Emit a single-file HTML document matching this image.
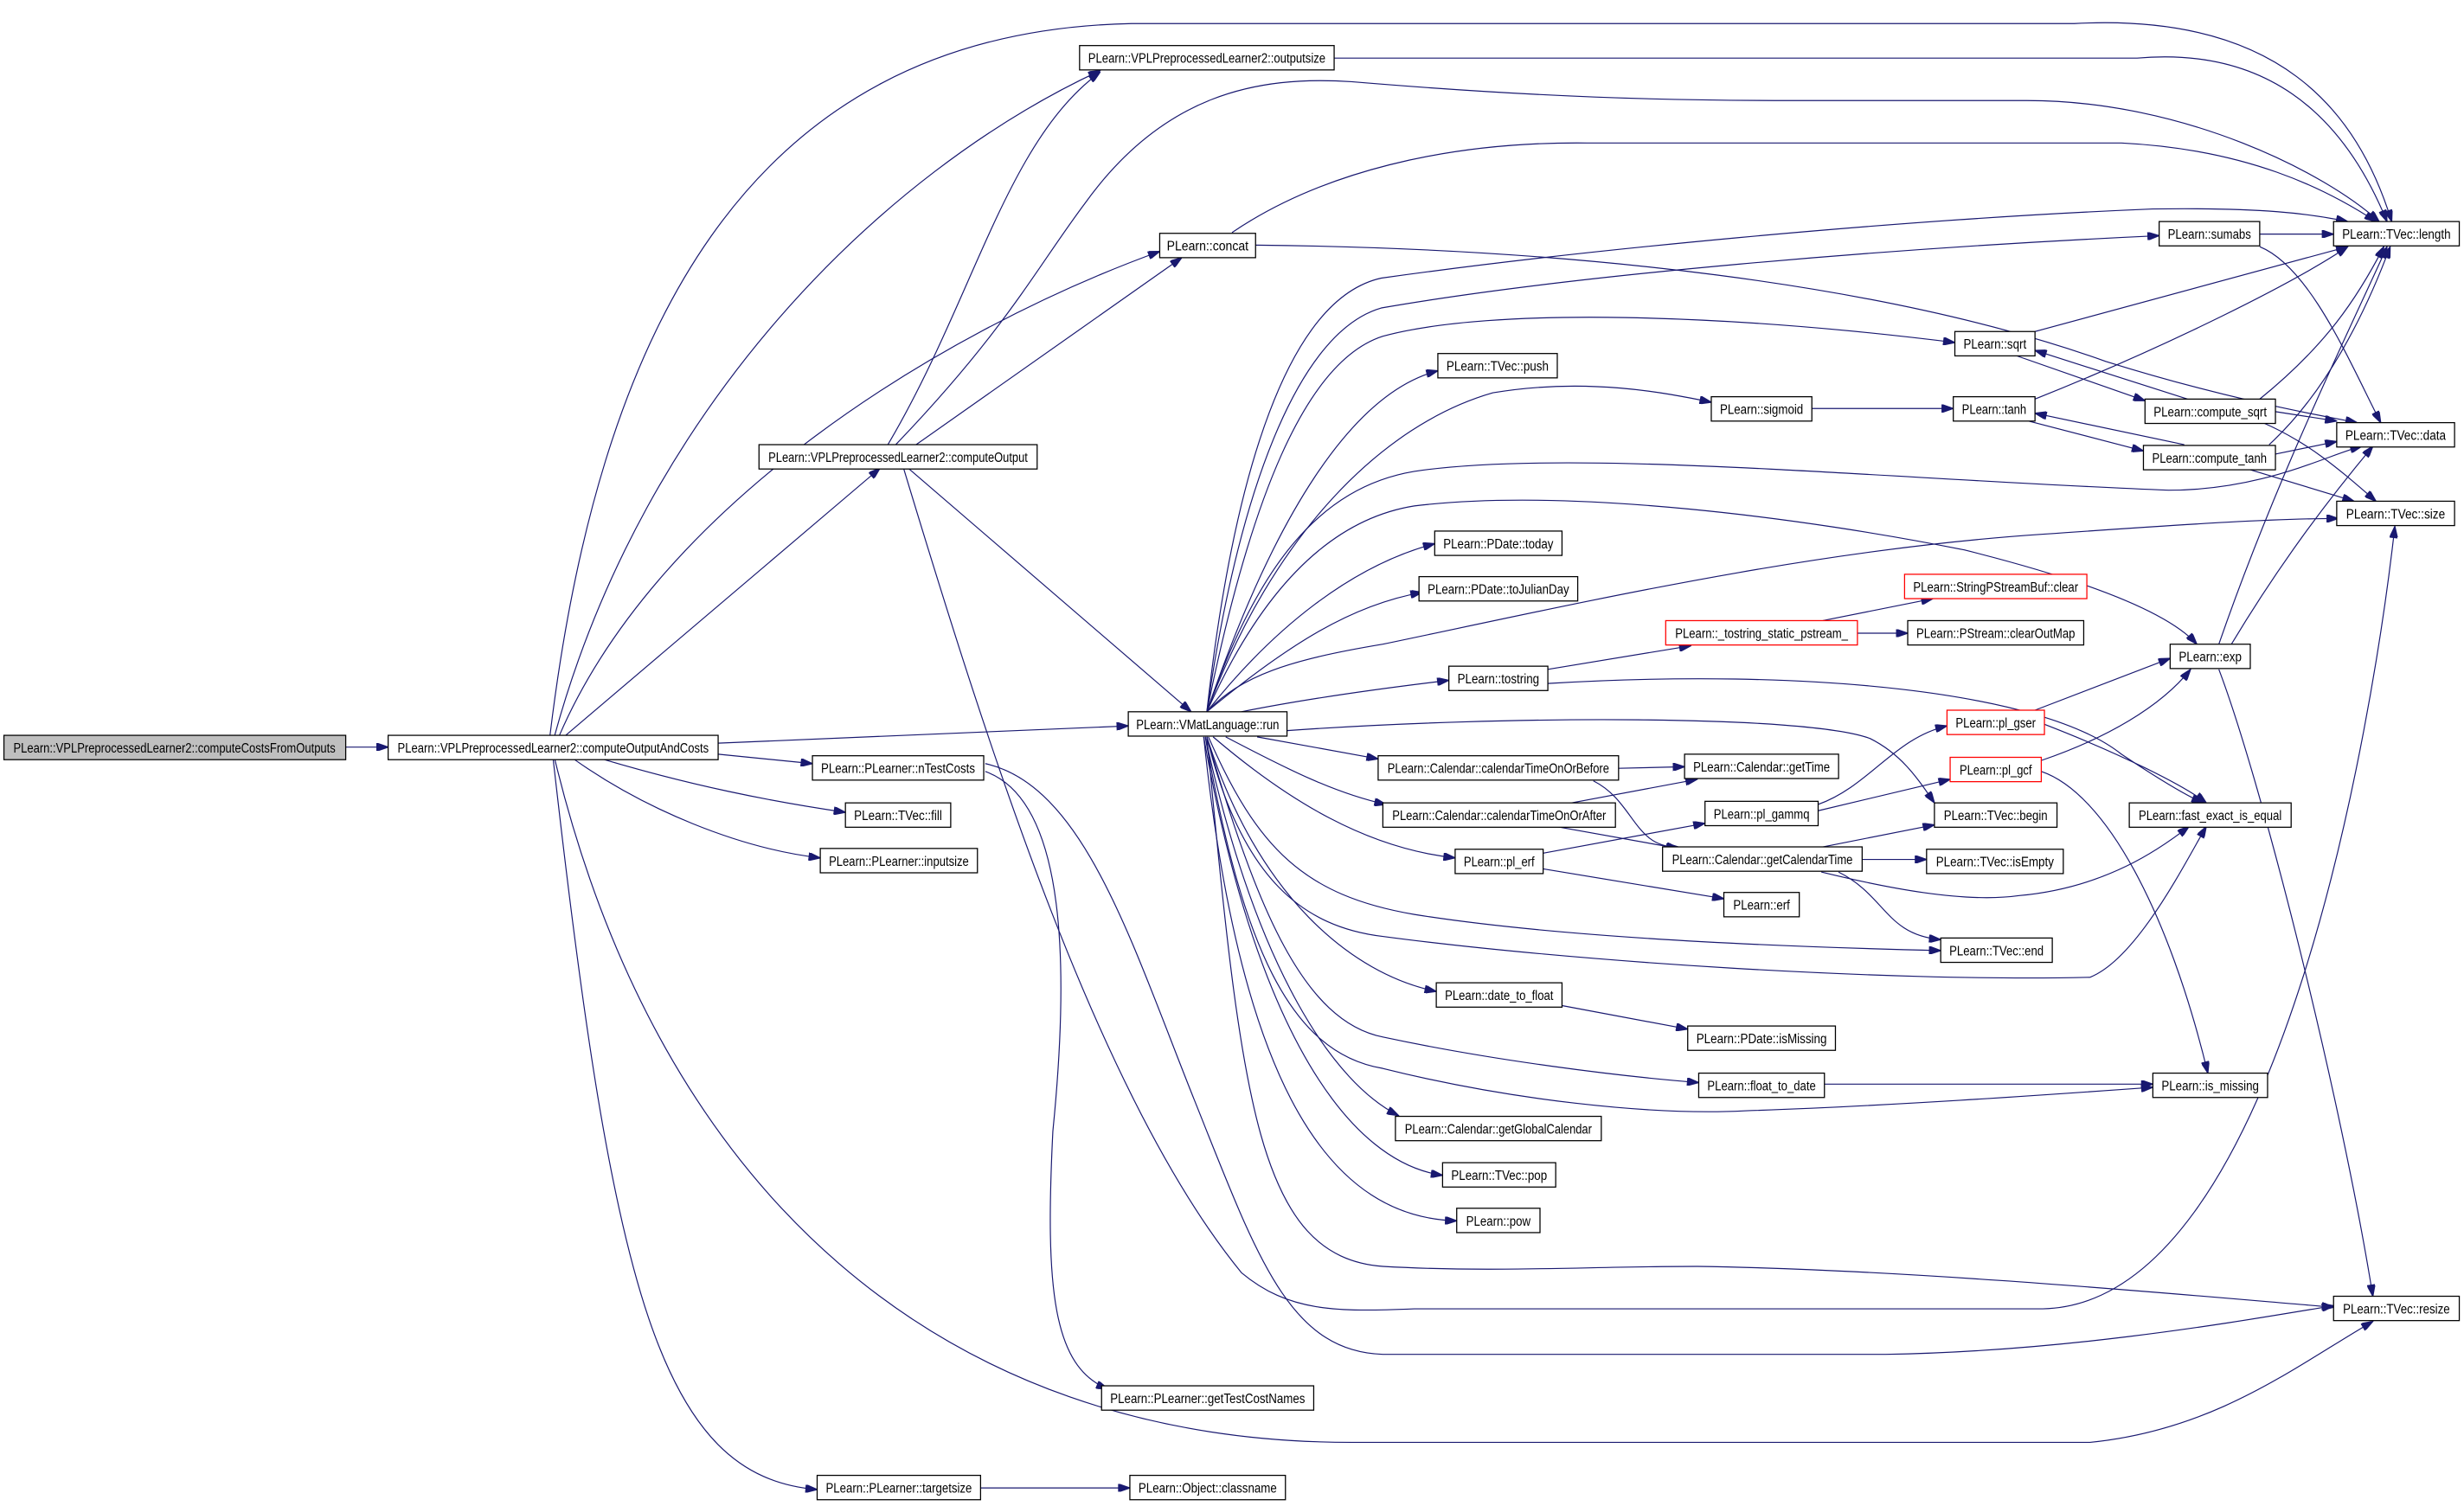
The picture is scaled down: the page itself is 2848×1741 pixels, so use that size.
<!DOCTYPE html>
<html><head><meta charset="utf-8"><style>
html,body{margin:0;padding:0;background:#fff;}
svg{display:block;}
text{font-family:"Liberation Sans",sans-serif;font-size:8.6px;fill:#000;}
.e{fill:none;stroke:#191970;stroke-width:0.65;}
.n{fill:#fff;stroke:#000;stroke-width:0.7;}
.r{fill:#fff;stroke:#ff0000;stroke-width:0.7;}
</style></head><body>
<svg width="2848" height="1741" viewBox="0 0 1568 958.5" preserveAspectRatio="none" xmlns="http://www.w3.org/2000/svg">
<defs><marker id="a" viewBox="0 0 10 7" refX="10" refY="3.5" markerWidth="8" markerHeight="5" markerUnits="userSpaceOnUse" orient="auto"><path d="M0,0 L10,3.5 L0,7 z" fill="#191970" stroke="#191970"/></marker></defs>
<g marker-end="url(#a)">
<path class="e" d="M220,475.5 L247,475.5"/>
<path class="e" d="M350,468 C380,220 470,20 720,15 L1320,15 C1450,8 1500,70 1522,141"/>
<path class="e" d="M353,468 C410,260 560,110 700,45"/>
<path class="e" d="M356,468 C420,320 600,210 738,160"/>
<path class="e" d="M360,468 L560,298"/>
<path class="e" d="M457,473 L718,462"/>
<path class="e" d="M457,480 L517,486"/>
<path class="e" d="M383,483 C440,500 490,510 538,517"/>
<path class="e" d="M365,483 C410,515 470,540 522,546"/>
<path class="e" d="M353,483 C420,760 600,918 860,918 L1330,918 C1410,910 1460,870 1510,841"/>
<path class="e" d="M352,483 C390,820 420,940 520,948"/>
<path class="e" d="M565,283 C620,190 640,90 700,46"/>
<path class="e" d="M570,283 C640,210 660,170 690,130 C740,60 800,48 860,52 C980,62 1060,64 1140,64 L1290,64 C1390,64 1480,110 1514,141"/>
<path class="e" d="M583,283 L752,164"/>
<path class="e" d="M578,298 L758,453"/>
<path class="e" d="M575,298 C630,480 700,700 790,810 C820,835 850,835 900,833 L1300,833 C1450,830 1510,460 1524,335"/>
<path class="e" d="M627,486 C690,500 720,600 760,700 C800,800 820,860 880,862 L1200,862 C1320,860 1430,840 1485,831"/>
<path class="e" d="M627,491 C680,510 680,620 670,720 C665,820 670,870 705,884"/>
<path class="e" d="M768,469 C790,700 800,800 880,806 C950,810 1010,806 1080,806 C1220,808 1400,825 1485,832"/>
<path class="e" d="M799,156 C1000,158 1200,180 1340,230 C1420,255 1480,265 1500,269"/>
<path class="e" d="M784,148 C840,110 920,90 1010,91 L1350,91 C1430,95 1480,120 1512,141"/>
<path class="e" d="M849,37 L1360,37 C1440,30 1490,70 1519,141"/>
<path class="e" d="M768,453 C785,300 820,190 879,177 C1000,160 1200,140 1370,133 C1440,132 1470,136 1494,141"/>
<path class="e" d="M768,453 C790,300 830,210 879,196 C1000,175 1200,158 1374,150"/>
<path class="e" d="M768,453 C795,320 830,230 880,214 C950,195 1100,200 1244,218"/>
<path class="e" d="M768,453 C810,330 860,250 915,236"/>
<path class="e" d="M768,453 C810,340 880,270 950,250 C1010,240 1060,250 1089,256"/>
<path class="e" d="M768,453 C800,360 840,310 900,300 C1000,285 1200,305 1380,312 C1440,312 1480,290 1503,284"/>
<path class="e" d="M768,453 C805,370 850,330 900,322 C1000,310 1150,330 1250,350 C1330,370 1380,390 1398,410"/>
<path class="e" d="M768,453 C790,430 820,420 880,410 C1000,385 1150,350 1300,340 C1400,333 1450,330 1488,330"/>
<path class="e" d="M768,453 C810,400 860,360 913,346"/>
<path class="e" d="M768,453 C820,410 860,385 905,377"/>
<path class="e" d="M790,453 C830,445 880,438 922,433"/>
<path class="e" d="M819,465 C960,455 1150,455 1190,470 C1210,480 1220,495 1231,511"/>
<path class="e" d="M800,469 L877,483"/>
<path class="e" d="M780,469 C820,490 850,505 882,512"/>
<path class="e" d="M772,469 C820,510 870,540 926,546"/>
<path class="e" d="M769,469 C800,540 830,570 900,582 C1000,598 1150,603 1235,605"/>
<path class="e" d="M768,469 C790,560 830,590 880,596 C1000,612 1200,625 1330,622 C1360,610 1390,550 1404,526"/>
<path class="e" d="M768,469 C800,570 860,620 914,631"/>
<path class="e" d="M768,469 C800,580 830,650 880,660 C950,675 1030,685 1081,689"/>
<path class="e" d="M767,469 C790,600 820,670 880,680 C960,700 1050,710 1110,707 C1200,704 1300,697 1370,692"/>
<path class="e" d="M767,469 C800,620 850,690 890,710"/>
<path class="e" d="M766,469 C800,660 860,740 918,748"/>
<path class="e" d="M766,469 C790,700 850,775 927,777"/>
<path class="e" d="M1438,149 L1485,149"/>
<path class="e" d="M1438,157 C1470,170 1495,230 1515,269"/>
<path class="e" d="M1295,211 L1494,157"/>
<path class="e" d="M1282,226 L1365,255"/>
<path class="e" d="M1392,254 L1295,223"/>
<path class="e" d="M1438,254 C1480,220 1500,190 1517,157"/>
<path class="e" d="M1448,262 L1487,268"/>
<path class="e" d="M1440,269 C1470,282 1490,300 1512,319"/>
<path class="e" d="M1295,254 C1380,220 1460,180 1494,157"/>
<path class="e" d="M1291,268 L1364,287"/>
<path class="e" d="M1390,283 L1295,263"/>
<path class="e" d="M1444,283 C1480,250 1505,200 1521,157"/>
<path class="e" d="M1448,289 L1487,281"/>
<path class="e" d="M1432,299 L1498,319"/>
<path class="e" d="M1153,260 L1243,260"/>
<path class="e" d="M1412,410 C1450,300 1500,200 1519,157"/>
<path class="e" d="M1420,410 C1450,360 1480,320 1510,284"/>
<path class="e" d="M1412,426 C1440,500 1490,700 1510,825"/>
<path class="e" d="M985,426 L1076,411"/>
<path class="e" d="M985,435 C1150,425 1300,440 1350,480 C1380,500 1395,508 1402,511"/>
<path class="e" d="M1160,395 L1230,381"/>
<path class="e" d="M1182,403 L1214,403"/>
<path class="e" d="M1295,452 L1381,419"/>
<path class="e" d="M1301,461 C1350,480 1390,500 1404,511"/>
<path class="e" d="M1299,484 C1340,470 1375,450 1394,426"/>
<path class="e" d="M1299,491 C1340,505 1380,580 1405,683"/>
<path class="e" d="M1157,512 C1190,500 1205,470 1239,462"/>
<path class="e" d="M1157,516 L1241,496"/>
<path class="e" d="M1030,489 L1072,488"/>
<path class="e" d="M1014,497 C1040,510 1040,540 1068,539"/>
<path class="e" d="M1000,511 L1080,496"/>
<path class="e" d="M990,526 L1068,540"/>
<path class="e" d="M982,543 L1085,524"/>
<path class="e" d="M982,553 L1097,572"/>
<path class="e" d="M1160,539 L1231,525"/>
<path class="e" d="M1185,547 L1226,547"/>
<path class="e" d="M1170,555 C1200,570 1200,595 1235,598"/>
<path class="e" d="M1159,555 C1200,565 1250,575 1285,570 C1340,565 1375,540 1393,526"/>
<path class="e" d="M994,640 L1074,655"/>
<path class="e" d="M1161,690 L1370,690"/>
<path class="e" d="M624,947 L719,947"/>
</g>
<g>
<rect x="2.5" y="468" width="217.5" height="15.5" fill="#bfbfbf" stroke="#000" stroke-width="0.7"/><text x="111" y="479" text-anchor="middle" textLength="205" lengthAdjust="spacingAndGlyphs">PLearn::VPLPreprocessedLearner2::computeCostsFromOutputs</text>
<rect class="n" x="247" y="468" width="210" height="15.5"/><text x="352" y="479" text-anchor="middle" textLength="198" lengthAdjust="spacingAndGlyphs">PLearn::VPLPreprocessedLearner2::computeOutputAndCosts</text>
<rect class="n" x="687" y="29" width="162" height="15.5"/><text x="768" y="40" text-anchor="middle" textLength="151" lengthAdjust="spacingAndGlyphs">PLearn::VPLPreprocessedLearner2::outputsize</text>
<rect class="n" x="738" y="148.5" width="61" height="15.5"/><text x="768.5" y="159.5" text-anchor="middle" textLength="52" lengthAdjust="spacingAndGlyphs">PLearn::concat</text>
<rect class="n" x="483" y="283" width="177" height="15.5"/><text x="571.5" y="294" text-anchor="middle" textLength="165" lengthAdjust="spacingAndGlyphs">PLearn::VPLPreprocessedLearner2::computeOutput</text>
<rect class="n" x="718" y="453" width="101" height="15.5"/><text x="768.5" y="464" text-anchor="middle" textLength="91" lengthAdjust="spacingAndGlyphs">PLearn::VMatLanguage::run</text>
<rect class="n" x="517" y="481" width="109" height="15.5"/><text x="571.5" y="492" text-anchor="middle" textLength="98" lengthAdjust="spacingAndGlyphs">PLearn::PLearner::nTestCosts</text>
<rect class="n" x="538" y="511" width="67" height="15.5"/><text x="571.5" y="522" text-anchor="middle" textLength="56" lengthAdjust="spacingAndGlyphs">PLearn::TVec::fill</text>
<rect class="n" x="522" y="540" width="100" height="15.5"/><text x="572" y="551" text-anchor="middle" textLength="89" lengthAdjust="spacingAndGlyphs">PLearn::PLearner::inputsize</text>
<rect class="n" x="701" y="882" width="135" height="15.5"/><text x="768.5" y="893" text-anchor="middle" textLength="124" lengthAdjust="spacingAndGlyphs">PLearn::PLearner::getTestCostNames</text>
<rect class="n" x="520" y="939" width="104" height="15.5"/><text x="572" y="950" text-anchor="middle" textLength="93" lengthAdjust="spacingAndGlyphs">PLearn::PLearner::targetsize</text>
<rect class="n" x="719" y="939" width="99" height="15.5"/><text x="768.5" y="950" text-anchor="middle" textLength="88" lengthAdjust="spacingAndGlyphs">PLearn::Object::classname</text>
<rect class="n" x="1374" y="141" width="64" height="15.5"/><text x="1406" y="152" text-anchor="middle" textLength="53" lengthAdjust="spacingAndGlyphs">PLearn::sumabs</text>
<rect class="n" x="1485" y="141" width="80" height="15.5"/><text x="1525" y="152" text-anchor="middle" textLength="69" lengthAdjust="spacingAndGlyphs">PLearn::TVec::length</text>
<rect class="n" x="1244" y="211" width="51" height="15.5"/><text x="1269.5" y="222" text-anchor="middle" textLength="40" lengthAdjust="spacingAndGlyphs">PLearn::sqrt</text>
<rect class="n" x="915" y="225" width="76" height="15.5"/><text x="953" y="236" text-anchor="middle" textLength="65" lengthAdjust="spacingAndGlyphs">PLearn::TVec::push</text>
<rect class="n" x="1089" y="252.5" width="64" height="15.5"/><text x="1121" y="263.5" text-anchor="middle" textLength="53" lengthAdjust="spacingAndGlyphs">PLearn::sigmoid</text>
<rect class="n" x="1243" y="252.5" width="52" height="15.5"/><text x="1269" y="263.5" text-anchor="middle" textLength="41" lengthAdjust="spacingAndGlyphs">PLearn::tanh</text>
<rect class="n" x="1365" y="254" width="83" height="15.5"/><text x="1406.5" y="265" text-anchor="middle" textLength="72" lengthAdjust="spacingAndGlyphs">PLearn::compute_sqrt</text>
<rect class="n" x="1487" y="269" width="75" height="15.5"/><text x="1524.5" y="280" text-anchor="middle" textLength="64" lengthAdjust="spacingAndGlyphs">PLearn::TVec::data</text>
<rect class="n" x="1364" y="283.5" width="84" height="15.5"/><text x="1406" y="294.5" text-anchor="middle" textLength="73" lengthAdjust="spacingAndGlyphs">PLearn::compute_tanh</text>
<rect class="n" x="1487" y="319" width="75" height="15.5"/><text x="1524.5" y="330" text-anchor="middle" textLength="63" lengthAdjust="spacingAndGlyphs">PLearn::TVec::size</text>
<rect class="n" x="913" y="338" width="81" height="15.5"/><text x="953.5" y="349" text-anchor="middle" textLength="70" lengthAdjust="spacingAndGlyphs">PLearn::PDate::today</text>
<rect class="n" x="903" y="367" width="101" height="15.5"/><text x="953.5" y="378" text-anchor="middle" textLength="90" lengthAdjust="spacingAndGlyphs">PLearn::PDate::toJulianDay</text>
<rect class="r" x="1212" y="365.5" width="116" height="15.5"/><text x="1270" y="376.5" text-anchor="middle" textLength="105" lengthAdjust="spacingAndGlyphs">PLearn::StringPStreamBuf::clear</text>
<rect class="r" x="1060" y="395" width="122" height="15.5"/><text x="1121" y="406" text-anchor="middle" textLength="110" lengthAdjust="spacingAndGlyphs">PLearn::_tostring_static_pstream_</text>
<rect class="n" x="1214" y="395" width="112" height="15.5"/><text x="1270" y="406" text-anchor="middle" textLength="101" lengthAdjust="spacingAndGlyphs">PLearn::PStream::clearOutMap</text>
<rect class="n" x="1381" y="410" width="51" height="15.5"/><text x="1406.5" y="421" text-anchor="middle" textLength="40" lengthAdjust="spacingAndGlyphs">PLearn::exp</text>
<rect class="n" x="922" y="424" width="63" height="15.5"/><text x="953.5" y="435" text-anchor="middle" textLength="52" lengthAdjust="spacingAndGlyphs">PLearn::tostring</text>
<rect class="r" x="1239" y="452" width="62" height="15.5"/><text x="1270" y="463" text-anchor="middle" textLength="51" lengthAdjust="spacingAndGlyphs">PLearn::pl_gser</text>
<rect class="n" x="877" y="481" width="153" height="15.5"/><text x="953.5" y="492" text-anchor="middle" textLength="141" lengthAdjust="spacingAndGlyphs">PLearn::Calendar::calendarTimeOnOrBefore</text>
<rect class="n" x="1072" y="480" width="98" height="15.5"/><text x="1121" y="491" text-anchor="middle" textLength="87" lengthAdjust="spacingAndGlyphs">PLearn::Calendar::getTime</text>
<rect class="r" x="1241" y="482" width="58" height="15.5"/><text x="1270" y="493" text-anchor="middle" textLength="46" lengthAdjust="spacingAndGlyphs">PLearn::pl_gcf</text>
<rect class="n" x="880" y="511" width="148" height="15.5"/><text x="954" y="522" text-anchor="middle" textLength="136" lengthAdjust="spacingAndGlyphs">PLearn::Calendar::calendarTimeOnOrAfter</text>
<rect class="n" x="1085" y="510" width="72" height="15.5"/><text x="1121" y="521" text-anchor="middle" textLength="61" lengthAdjust="spacingAndGlyphs">PLearn::pl_gammq</text>
<rect class="n" x="1231" y="511" width="78" height="15.5"/><text x="1270" y="522" text-anchor="middle" textLength="66" lengthAdjust="spacingAndGlyphs">PLearn::TVec::begin</text>
<rect class="n" x="1355" y="511" width="103" height="15.5"/><text x="1406.5" y="522" text-anchor="middle" textLength="91" lengthAdjust="spacingAndGlyphs">PLearn::fast_exact_is_equal</text>
<rect class="n" x="926" y="540.5" width="56" height="15.5"/><text x="954" y="551.5" text-anchor="middle" textLength="45" lengthAdjust="spacingAndGlyphs">PLearn::pl_erf</text>
<rect class="n" x="1058" y="539" width="127" height="15.5"/><text x="1121.5" y="550" text-anchor="middle" textLength="115" lengthAdjust="spacingAndGlyphs">PLearn::Calendar::getCalendarTime</text>
<rect class="n" x="1226" y="540.5" width="87" height="15.5"/><text x="1269.5" y="551.5" text-anchor="middle" textLength="75" lengthAdjust="spacingAndGlyphs">PLearn::TVec::isEmpty</text>
<rect class="n" x="1097" y="568" width="48" height="15.5"/><text x="1121" y="579" text-anchor="middle" textLength="36" lengthAdjust="spacingAndGlyphs">PLearn::erf</text>
<rect class="n" x="1235" y="597" width="71" height="15.5"/><text x="1270.5" y="608" text-anchor="middle" textLength="60" lengthAdjust="spacingAndGlyphs">PLearn::TVec::end</text>
<rect class="n" x="914" y="625.5" width="80" height="15.5"/><text x="954" y="636.5" text-anchor="middle" textLength="69" lengthAdjust="spacingAndGlyphs">PLearn::date_to_float</text>
<rect class="n" x="1074" y="653" width="94" height="15.5"/><text x="1121" y="664" text-anchor="middle" textLength="83" lengthAdjust="spacingAndGlyphs">PLearn::PDate::isMissing</text>
<rect class="n" x="1081" y="683" width="80" height="15.5"/><text x="1121" y="694" text-anchor="middle" textLength="69" lengthAdjust="spacingAndGlyphs">PLearn::float_to_date</text>
<rect class="n" x="1370" y="683" width="73" height="15.5"/><text x="1406.5" y="694" text-anchor="middle" textLength="62" lengthAdjust="spacingAndGlyphs">PLearn::is_missing</text>
<rect class="n" x="888" y="710.5" width="131" height="15.5"/><text x="953.5" y="721.5" text-anchor="middle" textLength="119" lengthAdjust="spacingAndGlyphs">PLearn::Calendar::getGlobalCalendar</text>
<rect class="n" x="918" y="740" width="72" height="15.5"/><text x="954" y="751" text-anchor="middle" textLength="61" lengthAdjust="spacingAndGlyphs">PLearn::TVec::pop</text>
<rect class="n" x="927" y="769" width="53" height="15.5"/><text x="953.5" y="780" text-anchor="middle" textLength="41" lengthAdjust="spacingAndGlyphs">PLearn::pow</text>
<rect class="n" x="1485" y="825" width="80" height="15.5"/><text x="1525" y="836" text-anchor="middle" textLength="68" lengthAdjust="spacingAndGlyphs">PLearn::TVec::resize</text>
</g>
</svg>
</body></html>
